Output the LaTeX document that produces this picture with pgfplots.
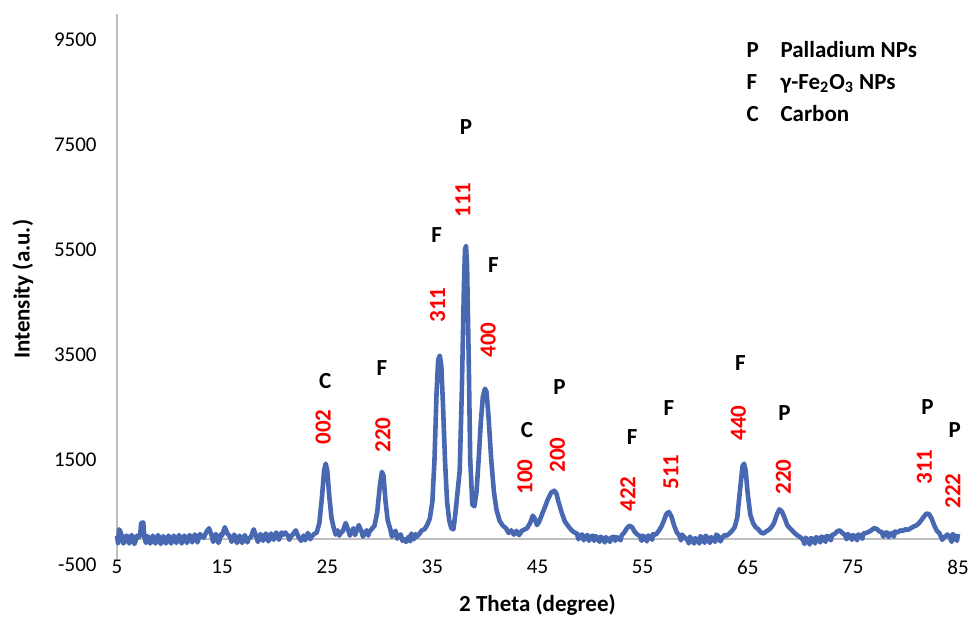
\documentclass[border=0pt]{standalone}
\usepackage{fontspec}
\setmainfont{Carlito}
\usepackage{pgfplots}
\usepackage{pgfplotstable}
\pgfplotsset{compat=1.18}
\definecolor{xrdblue}{RGB}{72,104,178}
\definecolor{axisgray}{RGB}{191,191,191}

\tikzset{
  hkl/.style={rotate=90, text=red, inner sep=0pt, font=\fontsize{11.5}{12}\bfseries\selectfont},
  phase/.style={inner sep=0pt, font=\fontsize{11.5}{12}\bfseries\selectfont},
}

% XRD pattern, 2theta vs intensity
\pgfplotstableread{
x y
5.00 60
5.10 -80
5.20 180
5.35 120
5.50 20
5.60 -90
5.75 -40
5.90 60
6.00 40
6.15 -90
6.25 -20
6.40 70
6.50 30
6.65 -100
6.75 -50
6.90 60
7.00 20
7.20 60
7.30 300
7.50 310
7.60 40
7.75 -80
7.90 50
8.00 20
8.15 -90
8.25 -40
8.40 60
8.50 10
8.65 -90
8.75 -20
8.90 70
9.00 30
9.15 -100
9.25 -50
9.40 50
9.50 0
9.65 -90
9.75 -30
9.90 60
10.00 20
10.15 -90
10.25 -40
10.40 60
10.50 10
10.65 -80
10.75 -10
10.90 70
11.00 30
11.15 -90
11.25 -30
11.40 60
11.50 20
11.65 -80
11.75 -20
11.90 70
12.00 40
12.15 -70
12.25 0
12.40 80
12.50 50
12.65 -70
12.75 -10
12.90 90
13.00 60
13.25 20
13.50 130
13.75 200
14.00 60
14.15 -60
14.25 0
14.40 90
14.50 50
14.65 -80
14.75 -30
14.90 90
15.00 60
15.25 220
15.50 100
15.75 40
15.90 -60
16.00 0
16.15 80
16.25 30
16.40 -80
16.50 -30
16.65 60
16.75 10
16.90 -80
17.00 -20
17.15 70
17.25 20
17.40 -70
17.50 -10
17.75 40
18.00 180
18.25 40
18.40 -60
18.50 0
18.65 90
18.75 50
18.90 -40
19.00 20
19.15 100
19.25 60
19.40 -50
19.50 10
19.65 100
19.75 50
19.90 -20
20.00 40
20.15 120
20.25 80
20.40 -20
20.50 30
20.65 120
20.75 70
21.00 120
21.25 60
21.40 -20
21.50 30
21.75 90
22.00 160
22.25 40
22.50 -40
22.75 60
22.90 -30
23.00 20
23.15 110
23.25 70
23.40 -10
23.50 40
23.75 90
24.00 120
24.25 300
24.50 800
24.70 1300
24.85 1430
25.00 1300
25.20 800
25.40 400
25.60 220
25.80 80
26.00 160
26.15 60
26.25 100
26.50 150
26.75 300
27.00 160
27.15 60
27.25 120
27.50 200
27.65 70
27.75 130
28.00 260
28.25 140
28.40 40
28.50 100
28.75 160
28.90 60
29.00 130
29.25 190
29.50 250
29.75 500
30.00 1000
30.20 1275
30.35 1200
30.55 700
30.75 350
31.00 180
31.15 40
31.25 100
31.50 150
31.65 0
31.75 60
32.00 80
32.15 -40
32.25 0
32.50 -60
32.75 40
32.90 -50
33.00 100
33.25 -10
33.40 90
33.50 40
33.75 90
34.00 160
34.25 180
34.50 260
34.75 380
35.00 700
35.20 1500
35.40 2800
35.55 3400
35.70 3490
35.85 3300
36.00 2600
36.20 1500
36.40 700
36.60 350
36.80 200
37.00 180
37.20 500
37.40 900
37.60 1300
37.80 2800
38.00 4800
38.10 5500
38.20 5580
38.30 5200
38.45 3500
38.60 1500
38.80 650
39.00 620
39.20 900
39.40 1500
39.60 2200
39.80 2700
40.00 2860
40.15 2800
40.35 2300
40.60 1500
40.85 900
41.10 550
41.40 340
41.70 250
42.00 200
42.25 110
42.50 160
42.75 80
43.00 150
43.25 70
43.50 150
43.80 180
44.00 200
44.30 300
44.55 440
44.75 380
44.95 260
45.15 320
45.40 450
45.70 600
46.00 760
46.30 880
46.60 915
46.80 860
47.00 700
47.30 500
47.60 330
48.00 220
48.25 160
48.50 120
48.75 100
48.90 -10
49.00 60
49.25 80
49.40 -30
49.50 40
49.75 70
49.90 -40
50.00 30
50.25 60
50.40 -40
50.50 50
50.75 20
50.90 -60
51.00 40
51.25 0
51.40 -70
51.50 30
51.75 -10
51.90 -60
52.00 20
52.25 40
52.40 -40
52.50 30
52.75 10
52.90 -30
53.00 60
53.25 120
53.50 200
53.75 250
54.00 220
54.25 130
54.50 80
54.75 50
54.90 -40
55.00 60
55.25 10
55.40 -50
55.50 60
55.75 40
55.90 -20
56.00 90
56.25 80
56.50 140
56.75 220
57.00 330
57.25 470
57.50 510
57.75 420
58.00 250
58.25 120
58.50 60
58.65 -30
58.75 80
59.00 20
59.25 -20
59.40 -90
59.50 40
59.75 -30
59.90 -90
60.00 10
60.25 -20
60.40 -90
60.50 50
60.75 0
60.90 -80
61.00 60
61.25 -10
61.40 -80
61.50 30
61.75 0
61.90 -60
62.00 80
62.25 40
62.40 -50
62.50 -10
62.75 70
63.00 60
63.25 100
63.50 150
63.75 220
64.00 400
64.25 900
64.50 1380
64.65 1430
64.80 1300
65.00 850
65.25 450
65.50 300
65.75 220
66.00 180
66.25 120
66.50 100
66.75 140
67.00 170
67.25 220
67.50 300
67.75 450
68.00 560
68.25 520
68.50 400
68.75 260
69.00 200
69.25 150
69.50 100
69.75 60
70.00 30
70.25 -20
70.40 -100
70.50 20
70.75 -40
70.90 -110
71.00 10
71.25 -10
71.40 -90
71.50 30
71.75 0
71.90 -70
72.00 40
72.25 20
72.40 -60
72.50 50
72.75 40
72.90 -30
73.00 70
73.25 90
73.50 140
73.75 160
74.00 110
74.25 70
74.40 -10
74.50 90
74.75 50
74.90 -20
75.00 70
75.25 40
75.40 -30
75.50 80
75.75 60
75.90 0
76.00 100
76.25 110
76.50 130
76.75 160
77.00 200
77.25 190
77.50 140
77.75 130
77.90 40
78.00 110
78.25 120
78.40 30
78.50 90
78.75 110
78.90 40
79.00 140
79.25 120
79.50 160
79.75 150
80.00 180
80.25 170
80.50 200
80.75 230
81.00 250
81.25 290
81.50 350
81.75 420
82.00 480
82.25 470
82.50 380
82.75 250
83.00 150
83.25 100
83.50 -20
83.75 40
84.00 80
84.25 20
84.40 -60
84.50 90
84.75 40
84.90 -40
85.00 90
}\xrd

\begin{document}
\begin{tikzpicture}
\begin{axis}[
  at={(58.5pt,26pt)}, anchor=south west,
  scale only axis, width=420.5pt, height=275.6pt,
  xmin=5, xmax=85, ymin=-500, ymax=10000,
  axis line style={draw=none}, tick style={draw=none},
  xtick={5,15,25,35,45,55,65,75,85},
  xticklabels={5,15,25,35,45,55,65,75,85},
  ytick={-500,1500,3500,5500,7500,9500},
  yticklabels={-500,1500,3500,5500,7500,9500},
  ticklabel style={font=\fontsize{10.5}{12}\selectfont},
  yticklabel style={anchor=east, inner sep=0pt, xshift=-10pt},
  xticklabel style={anchor=center, inner sep=0pt, yshift=-1pt},
  xlabel={2 Theta (degree)}, ylabel={Intensity (a.u.)},
  label style={font=\fontsize{11.5}{13}\bfseries\selectfont},
  xlabel style={at={(axis description cs:0.5,-0.0726)}, anchor=center, inner sep=0pt},
  ylabel style={at={(axis description cs:-0.1118,0.5)}, anchor=center, inner sep=0pt},
  clip=false,
]
\draw[axisgray, line width=1pt] (axis cs:5,-380) -- (axis cs:5,10000);
\draw[axisgray, line width=1pt] (axis cs:5,0) -- (axis cs:85,0);

\addplot[xrdblue, line width=2.3pt, line join=round] table[x=x,y=y] {\xrd};

% Miller indices
\node[hkl] at (axis cs:24.6,2129) {002};
\node[hkl] at (axis cs:30.3,1976) {220};
\node[hkl] at (axis cs:35.5,4452) {311};
\node[hkl] at (axis cs:37.9,6452) {111};
\node[hkl] at (axis cs:40.3,3786) {400};
\node[hkl] at (axis cs:43.8,1176) {100};
\node[hkl] at (axis cs:46.9,1595) {200};
\node[hkl] at (axis cs:53.6,852) {422};
\node[hkl] at (axis cs:57.7,1271) {511};
\node[hkl] at (axis cs:64.1,2205) {440};
\node[hkl] at (axis cs:68.4,1176) {220};
\node[hkl] at (axis cs:81.8,1367) {311};
\node[hkl] at (axis cs:84.5,910) {222};

% phase letters
\node[phase] at (axis cs:24.8,3000) {C};
\node[phase] at (axis cs:30.2,3252) {F};
\node[phase] at (axis cs:35.4,5785) {F};
\node[phase] at (axis cs:38.2,7843) {P};
\node[phase] at (axis cs:40.8,5214) {F};
\node[phase] at (axis cs:44.0,2071) {C};
\node[phase] at (axis cs:47.1,2890) {P};
\node[phase] at (axis cs:54.0,1938) {F};
\node[phase] at (axis cs:57.5,2490) {F};
\node[phase] at (axis cs:64.3,3348) {F};
\node[phase] at (axis cs:68.5,2395) {P};
\node[phase] at (axis cs:82.1,2509) {P};
\node[phase] at (axis cs:84.7,2071) {P};

% key
\node[phase, anchor=base west] at (axis cs:64.85,9176) {P};
\node[phase, anchor=base west] at (axis cs:68.08,9176) {Palladium NPs};
\node[phase, anchor=base west] at (axis cs:64.85,8567) {F};
\node[phase, anchor=base west] at (axis cs:68.08,8567) {γ-Fe\textsubscript{2}O\textsubscript{3} NPs};
\node[phase, anchor=base west] at (axis cs:64.85,7957) {C};
\node[phase, anchor=base west] at (axis cs:68.08,7957) {Carbon};
\end{axis}
\pgfresetboundingbox
\useasboundingbox (0,0) rectangle (486pt,308.5pt);
\end{tikzpicture}
\end{document}
